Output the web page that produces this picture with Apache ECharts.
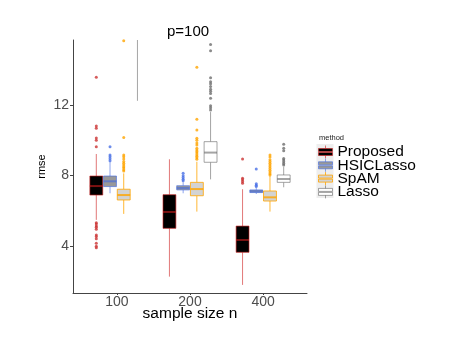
<!DOCTYPE html>
<html>
<head>
<meta charset="utf-8">
<script src="https://cdn.jsdelivr.net/npm/echarts@6/dist/echarts.min.js"></script>
<style>
  html, body { margin: 0; padding: 0; background: #fff; }
  #chart { width: 457px; height: 346px; }
</style>
</head>
<body>
<div id="chart"></div>
<script>
// rmse by sample size, four methods dodged per group (p=100)
const groups = ["100", "200", "400"];
const methods = ["Proposed", "HSICLasso", "SpAM", "Lasso"];
const yTicks = [4, 8, 12];

// [lower whisker, Q1, median, Q3, upper whisker] per sample size
const proposedBox = [[5.48, 6.89, 7.40, 7.97, 9.22], [2.26, 5.00, 5.93, 6.91, 8.92], [1.79, 3.64, 4.34, 5.13, 7.22]];
const hsicBox     = [[6.99, 7.37, 7.67, 7.97, 8.78], [6.99, 7.18, 7.29, 7.42, 7.62], [6.95, 7.03, 7.10, 7.18, 7.30]];
const spamBox     = [[5.82, 6.61, 6.89, 7.22, 8.12], [5.95, 6.85, 7.23, 7.61, 8.78], [5.95, 6.55, 6.76, 7.12, 7.97]];
const lassoBox    = [[12.24, 17.0, 18.5, 20.0, 24.0], [7.78, 8.75, 9.30, 9.92, 11.60], [7.33, 7.61, 7.80, 8.03, 8.50]];

// outlying points per sample size
const proposedOut = [
  [13.57, 10.81, 10.68, 10.13, 10.0, 9.63, 5.32, 5.25, 5.13, 5.06, 4.95, 4.62, 4.53, 4.41, 4.15, 3.99, 3.90],
  [],
  [8.94, 7.84, 7.76, 7.66, 7.56]
];
const hsicOut = [
  [9.63, 9.16, 9.06, 8.95, 8.84],
  [8.12, 7.98, 7.88, 7.78, 7.70],
  [8.37, 7.53, 7.45, 7.37]
];
const spamOut = [
  [15.65, 10.15, 9.16, 9.06, 8.93, 8.80, 8.70, 8.60, 8.50, 8.42, 8.33, 8.25],
  [14.14, 11.19, 10.58, 10.11, 10.0, 9.85, 9.73, 9.54, 9.45, 9.36, 9.27, 9.18, 9.09, 9.00, 8.92],
  [9.16, 9.05, 8.90, 8.80, 8.70, 8.60, 8.50, 8.40, 8.30, 8.20, 8.10, 8.03]
];
const lassoOut = [
  [],
  [15.44, 15.08, 13.55, 13.32, 13.20, 13.05, 12.90, 12.78, 12.66, 12.38, 11.96, 11.85, 11.72],
  [9.77, 9.54, 9.41, 8.97, 8.88, 8.78, 8.68, 8.60]
];

const boxes = [proposedBox, hsicBox, spamBox, lassoBox];
const outliers = [proposedOut, hsicOut, spamOut, lassoOut];
const lineCol = ["rgba(205,30,30,0.6)", "rgba(65,105,225,0.6)", "rgba(255,165,0,0.8)", "rgba(90,90,90,0.55)"];
const fillCol = ["#000000", "#999999", "#d3d3d3", "#ffffff"];
const dotCol = ["#cc3333", "#4a70e6", "#ffa500", "#6e6e6e"];
const dodge = 0.75 / methods.length;
const font = "'Liberation Sans', Arial, sans-serif";

const xOf = (g, i) => g + 1 + (i - (methods.length - 1) / 2) * dodge;

function drawBox(api, i) {
  const x = xOf(api.value(0), i);
  const hw = dodge * 0.47;
  const xl = api.coord([x - hw, 0])[0];
  const xr = api.coord([x + hw, 0])[0];
  const xc = api.coord([x, 0])[0];
  const y = (k) => api.coord([x, api.value(k)])[1];
  const stroke = lineCol[i];
  return {
    type: "group",
    children: [
      { type: "line", shape: { x1: xc, y1: y(1), x2: xc, y2: y(2) }, style: { stroke, lineWidth: 1 } },
      { type: "line", shape: { x1: xc, y1: y(4), x2: xc, y2: y(5) }, style: { stroke, lineWidth: 1 } },
      { type: "rect", shape: { x: xl, y: y(4), width: xr - xl, height: y(2) - y(4) },
        style: { fill: fillCol[i], stroke, lineWidth: 1 } },
      { type: "line", shape: { x1: xl, y1: y(3), x2: xr, y2: y(3) }, style: { stroke, lineWidth: 2 } },
    ],
  };
}

// box glyph for the legend keys: whisker, box split by median
const keyIcon = "path://M7,0V3M0,3H14V6H0ZM0,7H14V10H0ZM7,10V13";

const series = [];
methods.forEach((m, i) => {
  series.push({
    type: "custom", name: m, clip: true,
    data: boxes[i].map((b, g) => [g, ...b]),
    encode: { x: 0, y: [1, 2, 3, 4, 5] },
    renderItem: (params, api) => drawBox(api, i),
  });
  series.push({
    type: "scatter", name: m, clip: true, symbolSize: 3,
    itemStyle: { color: dotCol[i] },
    data: outliers[i].flatMap((vals, g) => vals.map((v) => [xOf(g, i), v])),
  });
});

const chart = echarts.init(document.getElementById("chart"));
chart.setOption({
  animation: false,
  title: [
    { text: "p=100", left: 167, top: 24, padding: 0,
      textStyle: { fontFamily: font, fontSize: 15, fontWeight: "normal", color: "#000" } },
    { text: "method", left: 319, top: 134, padding: 0,
      textStyle: { fontFamily: font, fontSize: 7.5, fontWeight: "normal", color: "#222" } },
  ],
  graphic: [
    { type: "rect", left: 316.5, top: 144, z: 0, shape: { width: 17, height: 54 }, style: { fill: "#eeeeee" } },
  ],
  legend: {
    orient: "vertical", left: 318, top: 144, padding: 0,
    itemWidth: 14, itemHeight: 13, itemGap: -2.7,
    textStyle: { fontFamily: font, fontSize: 15.5, color: "#000", lineHeight: 13 },
    data: methods.map((m, i) => ({
      name: m, icon: keyIcon,
      itemStyle: { color: fillCol[i], borderColor: lineCol[i], borderWidth: 1 },
    })),
  },
  grid: { left: 73, top: 40, width: 234, height: 253 },
  xAxis: {
    type: "value", min: 0.4, max: 3.6,
    name: "sample size n", nameLocation: "middle", nameGap: 13, nameMoveOverlap: false,
    nameTextStyle: { fontFamily: font, fontSize: 15.5, color: "#000" },
    axisLine: { show: true, lineStyle: { color: "#444", width: 1 } },
    axisTick: { show: true, customValues: [1, 2, 3], length: 2, lineStyle: { color: "#444" } },
    axisLabel: { customValues: [1, 2, 3], margin: 2, fontFamily: font, fontSize: 14, color: "#4d4d4d",
      formatter: (v) => groups[Math.round(v) - 1] },
    splitLine: { show: false },
  },
  yAxis: {
    type: "value", min: 1.33, max: 15.69,
    name: "rmse", nameLocation: "middle", nameGap: 26, nameMoveOverlap: false,
    nameTextStyle: { fontFamily: font, fontSize: 11, color: "#000" },
    axisLine: { show: true, lineStyle: { color: "#444", width: 1 } },
    axisTick: { show: true, customValues: yTicks, length: 3, lineStyle: { color: "#444" } },
    axisLabel: { customValues: yTicks, margin: 4, fontFamily: font, fontSize: 14, color: "#4d4d4d" },
    splitLine: { show: false },
  },
  series,
});
</script>
</body>
</html>
